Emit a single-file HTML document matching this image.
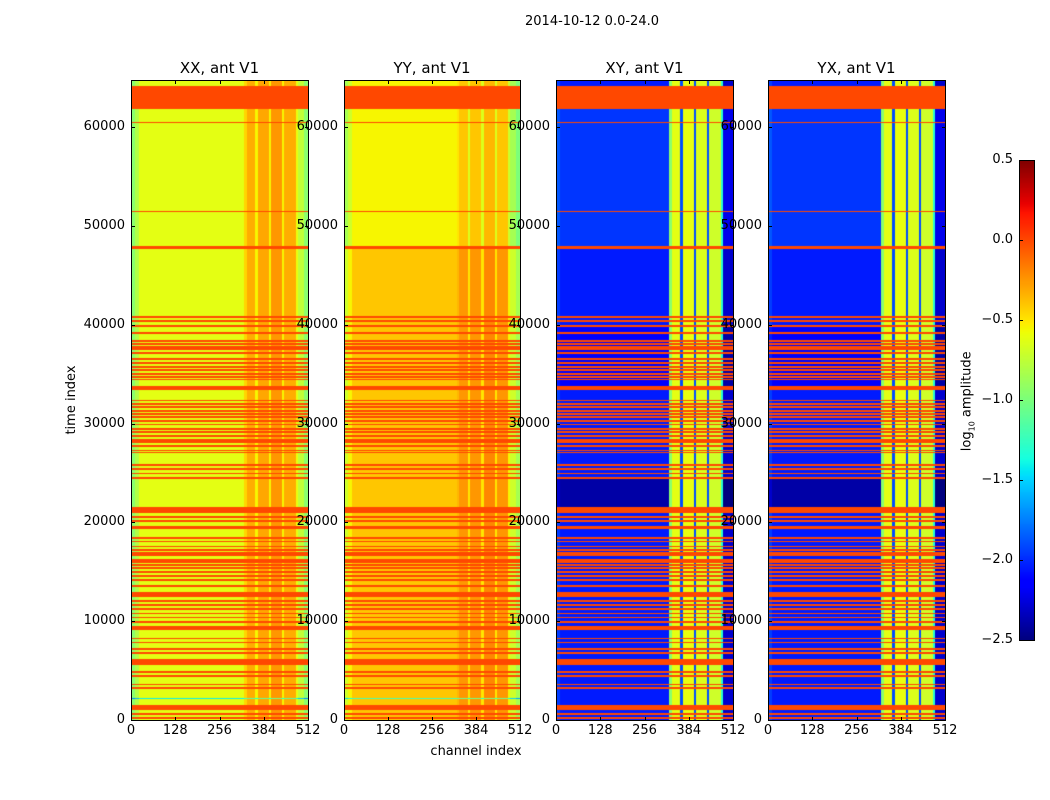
<!DOCTYPE html>
<html><head><meta charset="utf-8">
<style>
body{margin:0;background:#fff;}
#fig{position:relative;width:1050px;height:800px;background:#fff;font-family:"DejaVu Sans","Liberation Sans",sans-serif;color:#000;overflow:hidden;}
.t{position:absolute;white-space:nowrap;font-size:12px;line-height:14px;}
canvas{position:absolute;}
.frame{position:absolute;border:1px solid #000;box-sizing:border-box;}
.tick{position:absolute;background:#000;}
</style></head><body>
<div id="fig">
<div class="t" style="left:525px;top:15px;font-size:13px;">2014-10-12 0.0-24.0</div>
<canvas id="p0" width="177" height="640" style="left:131px;top:80px"></canvas>
<canvas id="p1" width="176" height="640" style="left:344px;top:80px"></canvas>
<canvas id="p2" width="177" height="640" style="left:556px;top:80px"></canvas>
<canvas id="p3" width="177" height="640" style="left:768px;top:80px"></canvas>
<canvas id="cb" width="15" height="480" style="left:1019px;top:160px"></canvas>
<div class="frame" style="left:1019px;top:160px;width:16px;height:481px"></div>
<div class="t" style="left:32px;top:393px;font-size:13px;transform:rotate(-90deg);width:80px;text-align:center;">time index</div>
<div class="t" style="left:426px;top:745px;font-size:13px;width:100px;text-align:center;">channel index</div>
<div class="t" style="left:910px;top:392px;font-size:13px;transform:rotate(-90deg);width:120px;text-align:center;">log<sub style="font-size:8px">10</sub> amplitude</div>
</div>
<script>
// ---- data ----
const panelTitles = ["XX, ant V1","YY, ant V1","XY, ant V1","YX, ant V1"];
const yTicks = [0,10000,20000,30000,40000,50000,60000];
const xTicks = [0,128,256,384,512];
const cbTicks = [0.5,0.0,-0.5,-1.0,-1.5,-2.0,-2.5];
const segEdges = [0,12,24,328,336,360,366,400,406,438,444,478,484,500,512];
const profXX = [-0.95,-0.8,-0.62,-0.45,-0.32,-0.55,-0.3,-0.55,-0.25,-0.55,-0.32,-0.6,-0.75,-0.95];
const profYY = [-0.7,-0.55,-0.4,-0.35,-0.25,-0.5,-0.25,-0.5,-0.2,-0.5,-0.25,-0.55,-0.7,-0.85];
const profXY = [-1.95,-2.05,-2.05,-0.95,-0.62,-1.9,-0.6,-1.9,-0.65,-1.9,-0.7,-1.3,-2.3,-2.3];
const profYX = [-1.95,-2.05,-2.05,-0.95,-0.62,-1.9,-0.6,-1.9,-0.65,-1.9,-0.7,-1.3,-2.3,-2.3];
const flagStart = [61900,47650,33420,20940,19340,15860,12480,9100,5600,1060];
const flagEnd   = [64200,48000,33840,21580,19670,16290,12910,9520,6200,1490];
const flagLines = [60500,51480,40820,40400,39890,39210,38370,38060,37760,37530,37180,36590,36170,35730,35400,35070,34740,34480,32360,32020,31690,31300,31010,30670,30250,29910,29490,29190,28770,28350,28140,27710,27280,27080,25810,25380,24960,24540,20520,20180,18400,18070,17560,17220,16920,16720,15660,15360,15020,14600,14180,13540,12060,11640,11220,10790,10370,9950,8250,7840,7210,6780,4870,4450,3600,3270,640,220];
const lineWidthT = 180;
const modStartXX = [2080,3130,30700], modEndXX=[2200,3250,30820], modValXX=[-0.8,-0.6,-1.3];
const modStartYY = [48000,2080,3130], modEndYY=[64800,2200,3250], modValYY=[-0.15,-0.8,-0.6];
const modStartXY = [21600,33500,48000], modEndXY=[24400,40000,62000], modValXY=[-0.35,-0.1,0.08];
const modStartYX = [21600,33500,48000], modEndYX=[24400,40000,62000], modValYX=[-0.35,-0.1,0.08];
const vmin=-2.5, vmax=0.5, tMax=64800, chMax=512;

function interp(pts,x){for(let i=1;i<pts.length;i++){if(x<=pts[i][0]){const a=pts[i-1],b=pts[i];return a[1]+(b[1]-a[1])*(x-a[0])/(b[0]-a[0]);}}return pts[pts.length-1][1];}
const R=[[0,0],[0.35,0],[0.66,1],[0.89,1],[1,0.5]],G=[[0,0],[0.125,0],[0.375,1],[0.64,1],[0.91,0],[1,0]],B=[[0,0.5],[0.11,1],[0.34,1],[0.65,0],[1,0]];
function jet(v){let x=(v-vmin)/(vmax-vmin);x=Math.max(0,Math.min(1,x));return [interp(R,x)*255,interp(G,x)*255,interp(B,x)*255];}

const panels=[[profXX,modStartXX,modEndXX,modValXX],[profYY,modStartYY,modEndYY,modValYY],[profXY,modStartXY,modEndXY,modValXY],[profYX,modStartYX,modEndYX,modValYX]];
const px0=[131,344,556,768], pw=[177,176,177,177];
const fig=document.getElementById('fig');
function isFlag(t){for(let i=0;i<flagStart.length;i++)if(t>=flagStart[i]&&t<=flagEnd[i])return true;for(const c of flagLines)if(Math.abs(t-c)<=lineWidthT/2)return true;return false;}
panels.forEach((p,k)=>{
  const cv=document.getElementById('p'+k),ctx=cv.getContext('2d'),W=cv.width,H=640;
  const img=ctx.createImageData(W,H);
  for(let y=0;y<H;y++){
    const t=(H-y-0.5)/H*tMax; const fl=isFlag(t);
    let mod=0; for(let i=0;i<p[1].length;i++) if(t>=p[1][i]&&t<=p[2][i]) mod+=p[3][i];
    for(let x=0;x<W;x++){
      const ch=(x+0.5)/W*chMax; let s=0; while(s<segEdges.length-2&&ch>=segEdges[s+1])s++;
      let v = fl?0.0:p[0][s]+((ch<328||ch>=484||k<2)?mod:0);
      const c=jet(v),o=(y*W+x)*4; img.data[o]=c[0];img.data[o+1]=c[1];img.data[o+2]=c[2];img.data[o+3]=255;
    }
  }
  ctx.putImageData(img,0,0);
  const x0=px0[k],w=pw[k];
  const fr=document.createElement('div'); fr.className='frame';
  
  
  fr.style.cssText=`left:${x0}px;top:80px;width:${w+1}px;height:641px`; fig.appendChild(fr);
  const ti=document.createElement('div'); ti.className='t';
  
  
  ti.style.cssText=`left:${x0}px;width:${w}px;text-align:center;top:60px;font-size:15px;line-height:17px`; ti.textContent=panelTitles[k]; fig.appendChild(ti);
  yTicks.forEach(v=>{
    const y=720-v/tMax*640;
    [x0,x0+w-3].forEach(tx=>{const m=document.createElement('div');m.className='tick';
      
      
      m.style.cssText=`left:${tx}px;top:${Math.round(y)}px;width:4px;height:1px`;fig.appendChild(m);});
    const l=document.createElement('div');l.className='t';
    
    
    l.style.cssText=`left:${x0-106}px;width:100px;text-align:right;top:${y-7}px;font-size:13px`;l.textContent=v;fig.appendChild(l);
  });
  xTicks.forEach(v=>{
    const x=x0+v/chMax*w;
    [80,717].forEach(ty=>{const m=document.createElement('div');m.className='tick';
      
      
      m.style.cssText=`left:${Math.round(x)}px;top:${ty}px;width:1px;height:4px`;fig.appendChild(m);});
    const l=document.createElement('div');l.className='t';
    
    
    l.style.cssText=`left:${x-30}px;width:60px;text-align:center;top:724px;font-size:13px`;l.textContent=v;fig.appendChild(l);
  });
});
// colorbar
(function(){const cv=document.getElementById('cb'),ctx=cv.getContext('2d');
  for(let y=0;y<480;y++){const v=vmax-(y+0.5)/480*(vmax-vmin);const c=jet(v);ctx.fillStyle=`rgb(${c[0]|0},${c[1]|0},${c[2]|0})`;ctx.fillRect(0,y,15,1);}
  cbTicks.forEach(v=>{const y=160+(vmax-v)/(vmax-vmin)*480;
    const m=document.createElement('div');m.className='tick';
    
    
    m.style.cssText=`left:1019px;top:${Math.round(y)}px;width:4px;height:1px`;fig.appendChild(m);
    const l=document.createElement('div');l.className='t';
    
    
    l.style.cssText=`left:953px;width:60px;text-align:right;top:${y-7}px;font-size:13px`;l.textContent=v.toFixed(1).replace('-','\u2212');fig.appendChild(l);});
})();
</script>
</body></html>
